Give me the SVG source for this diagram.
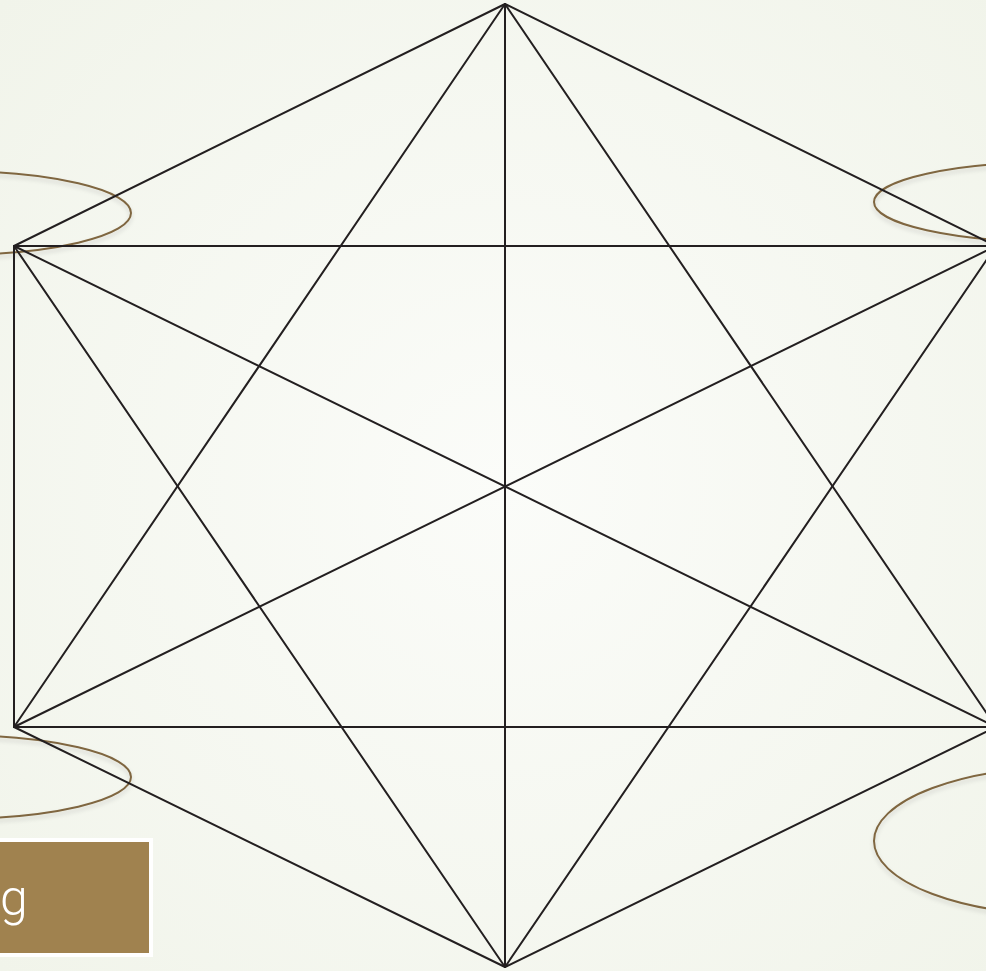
<svg xmlns="http://www.w3.org/2000/svg" width="986" height="971" viewBox="0 0 986 971">
<style>
.edge{stroke:#231F20;stroke-width:2;fill:none;stroke-linecap:round}
.ring{stroke:#7F6640;stroke-width:2;fill:none;filter:url(#sh)}
</style>
<defs>
<radialGradient id="bg" cx="505" cy="486" r="700" gradientUnits="userSpaceOnUse">
<stop offset="0" stop-color="#FBFCF9"/>
<stop offset="1" stop-color="#F1F4EA"/>
</radialGradient>
<filter id="sh" x="-20%" y="-20%" width="140%" height="150%">
<feDropShadow dx="0" dy="3" stdDeviation="2" flood-color="#000" flood-opacity="0.15"/>
</filter>
</defs>
<rect x="0" y="0" width="986" height="971" fill="url(#bg)"/>
<g id="rings">
<ellipse id="ring-ul" class="ring" cx="-49" cy="213" rx="180" ry="42"/>
<ellipse id="ring-ll" class="ring" cx="-49" cy="777" rx="180" ry="42"/>
<ellipse id="ring-ur" class="ring" cx="1054" cy="202" rx="180" ry="40"/>
<ellipse id="ring-lr" class="ring" cx="1074" cy="841" rx="200" ry="75"/>
</g>
<g id="connectors">
<line class="edge" x1="505" y1="4" x2="14" y2="246"/>
<line class="edge" x1="505" y1="4" x2="996" y2="246"/>
<line class="edge" x1="14" y1="246" x2="14" y2="727"/>
<line class="edge" x1="996" y1="246" x2="996" y2="727"/>
<line class="edge" x1="14" y1="727" x2="505" y2="967"/>
<line class="edge" x1="996" y1="727" x2="505" y2="967"/>
<line class="edge" x1="505" y1="4" x2="505" y2="967"/>
<line class="edge" x1="14" y1="246" x2="996" y2="246"/>
<line class="edge" x1="14" y1="727" x2="996" y2="727"/>
<line class="edge" x1="14" y1="246" x2="996" y2="727"/>
<line class="edge" x1="14" y1="727" x2="996" y2="246"/>
<line class="edge" x1="505" y1="4" x2="14" y2="727"/>
<line class="edge" x1="505" y1="4" x2="996" y2="727"/>
<line class="edge" x1="505" y1="967" x2="14" y2="246"/>
<line class="edge" x1="505" y1="967" x2="996" y2="246"/>
</g>
<g id="title-box">
<rect x="-10" y="840" width="161" height="115" fill="#A0824F" stroke="#FFFFFF" stroke-width="4"/>
<text x="0" y="915" font-family="Roboto, 'Liberation Sans', sans-serif" font-weight="300" font-size="50" fill="#FFFFFF">g</text>
</g>
</svg>
